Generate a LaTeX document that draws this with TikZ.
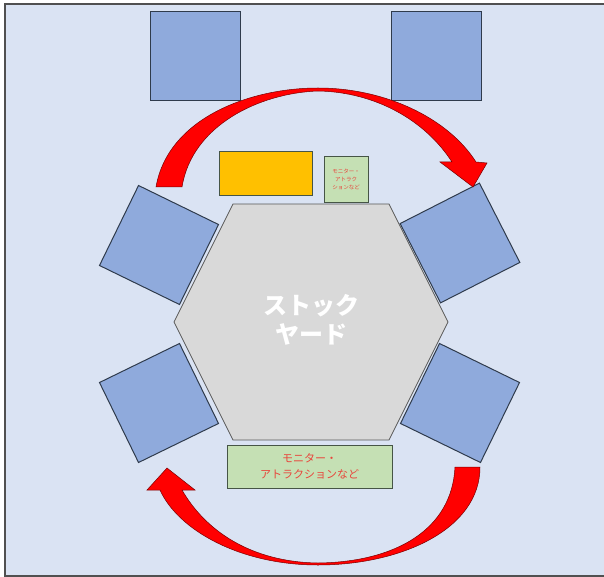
\documentclass[tikz,border=0pt]{standalone}
\usepackage{fontspec}
\newfontfamily\jpfont{Noto Sans CJK JP}
\usetikzlibrary{positioning}

\definecolor{roombg}{RGB}{218,227,243}
\definecolor{roomline}{RGB}{80,80,80}
\definecolor{seatfill}{RGB}{143,170,220}
\definecolor{seatline}{RGB}{47,59,76}
\definecolor{yardfill}{RGB}{217,217,217}
\definecolor{yardline}{RGB}{89,89,89}
\definecolor{deskfill}{RGB}{255,192,0}
\definecolor{boxfill}{RGB}{197,224,180}
\definecolor{boxline}{RGB}{70,85,70}
\definecolor{monitortext}{RGB}{232,70,60}
\definecolor{arrowline}{RGB}{120,0,0}

\begin{document}
\begin{tikzpicture}[x=1pt, y=-1pt,
  seat/.style={draw=seatline, fill=seatfill, line width=1pt, minimum size=89pt, inner sep=0pt},
  monitor/.style={draw=boxline, fill=boxfill, line width=0.9pt, inner sep=0pt, align=center, text=monitortext},
  flow/.style={fill=red, draw=arrowline, line width=0.5pt}]
  \useasboundingbox (0,0) rectangle (604,577);

  % Room background
  \fill[roombg] (5,4) rectangle (604,576);
  \draw[roomline, line width=1.2pt] (610,4) -- (5,4) -- (5,576) -- (610,576);

  % Seats at the top
  \node[seat, minimum width=90pt] (seatA) at (195,56.5) {};
  \node[seat, minimum width=90pt] (seatB) at (436,56.5) {};

  % Seats round the yard
  \node[seat, rotate=-26] (seatC) at (159,245) {};
  \node[seat, rotate=27]  (seatD) at (460,243) {};
  \node[seat, rotate=26]  (seatE) at (159,403) {};
  \node[seat, rotate=-26] (seatF) at (460,403) {};

  % Stock yard
  \draw[fill=yardfill, draw=yardline, line width=0.8pt]
    (233,204) -- (389,204) -- (448,322) -- (389,440) -- (233,440) -- (174,322) -- cycle;
  \node[font=\jpfont\bfseries\fontsize{24}{29}\selectfont, text=white, align=center] (yard) at (311,320) {ストック\\ヤード};

  % Desk and monitors
  \node[draw=boxline, fill=deskfill, line width=0.8pt, minimum width=93pt, minimum height=44pt, inner sep=0pt] (desk) at (265.5,173) {};
  \node[monitor, minimum width=44pt, minimum height=46pt, font=\jpfont\fontsize{5.5}{8}\selectfont] (monA) at (346,179) {モニター・\\アトラク\\ションなど};
  \node[monitor, minimum width=165pt, minimum height=43pt, font=\jpfont\fontsize{11}{16}\selectfont] (monB) at (309.5,466.5) {モニター・\\アトラクションなど};

  % Upper flow arrow
  \draw[flow] (156,187) .. controls (168,118) and (250,88) .. (318,88)
    .. controls (385,88) and (448,118) .. (476,162)
    -- (487,163) -- (473,187) -- (440,162) -- (452,162)
    .. controls (425,120) and (375,92) .. (318,91)
    .. controls (260,93) and (192,125) .. (182,187) -- cycle;

  % Lower flow arrow
  \draw[flow] (480,467) .. controls (480,530) and (400,565) .. (318,565)
    .. controls (240,565) and (178,530) .. (160,490)
    -- (147,490) -- (167,468) -- (195,490) -- (182,490)
    .. controls (205,530) and (250,562) .. (318,563)
    .. controls (395,562) and (452,530) .. (455,467) -- cycle;
\end{tikzpicture}
\end{document}
